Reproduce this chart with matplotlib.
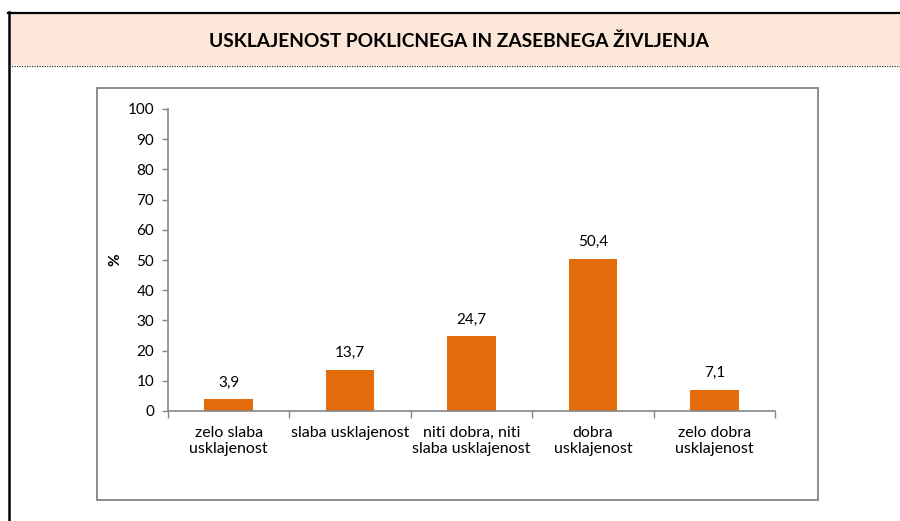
import matplotlib.pyplot as plt
from matplotlib.patches import Rectangle
from matplotlib.lines import Line2D
import numpy as np

plt.rcParams['font.family'] = ['Lato', 'DejaVu Sans']

title = 'USKLAJENOST POKLICNEGA IN ZASEBNEGA ŽIVLJENJA'
categories = ['zelo slaba\nusklajenost', 'slaba usklajenost',
              'niti dobra, niti\nslaba usklajenost', 'dobra\nusklajenost',
              'zelo dobra\nusklajenost']
values = [3.9, 13.7, 24.7, 50.4, 7.1]
value_labels = ['3,9', '13,7', '24,7', '50,4', '7,1']
yticks = [0, 10, 20, 30, 40, 50, 60, 70, 80, 90, 100]

W, H = 900, 521
fig = plt.figure(figsize=(W/100, H/100), dpi=100)

# header band
fig.patches.append(Rectangle((9/W, (H-65)/H), 1 - 9/W, 53/H, transform=fig.transFigure,
                             facecolor='#FCE6D8', edgecolor='none', zorder=-2))
fig.lines.append(Line2D([8/W, 1], [(H-12.5)/H]*2, transform=fig.transFigure, color='black', lw=1.6))
fig.lines.append(Line2D([9/W]*2, [0, (H-12)/H], transform=fig.transFigure, color='black', lw=1.8))
fig.lines.append(Line2D([9/W, 1], [(H-65.5)/H]*2, transform=fig.transFigure, color='#333333',
                        lw=0.9, ls=(0, (1, 1))))
fig.text(459/W, (H-41)/H, title, ha='center', va='center', fontsize=13.8, fontweight='bold')

# chart box
fig.patches.append(Rectangle((97/W, 21/H), 721/W, 412/H, transform=fig.transFigure,
                             facecolor='none', edgecolor='#8C8C8C', lw=1.4, zorder=-1))

ax = fig.add_axes([168/W, 110/H, 607/W, 302/H])
ax.patch.set_alpha(0)
x = np.arange(len(categories))
ax.bar(x, values, width=0.4, color='#E46C0A')
for xi, v, lab in zip(x, values, value_labels):
    ax.annotate(lab, (xi, v), xytext=(0, 7), textcoords='offset points',
                ha='center', va='bottom', fontsize=11)

ax.set_xlim(-0.5, len(categories) - 0.5)
ax.set_ylim(0, 100)
ax.set_yticks(yticks)
ax.set_xticks(x)
ax.set_xticklabels(categories, fontsize=11.5, linespacing=1.15)
ax.set_xticks(np.arange(-0.5, len(categories)), minor=True)
ax.tick_params(axis='x', which='major', length=0, pad=11)
ax.tick_params(axis='x', which='minor', length=5, color='#868686', width=1)
ax.tick_params(axis='y', length=4, color='#868686', width=1, labelsize=11, pad=6)
ax.set_ylabel('%', fontsize=11, fontweight='bold', labelpad=4)
for s in ['top', 'right']:
    ax.spines[s].set_visible(False)
for s in ['left', 'bottom']:
    ax.spines[s].set_color('#868686')
    ax.spines[s].set_linewidth(1.2)

fig.savefig('out.png', dpi=100)
